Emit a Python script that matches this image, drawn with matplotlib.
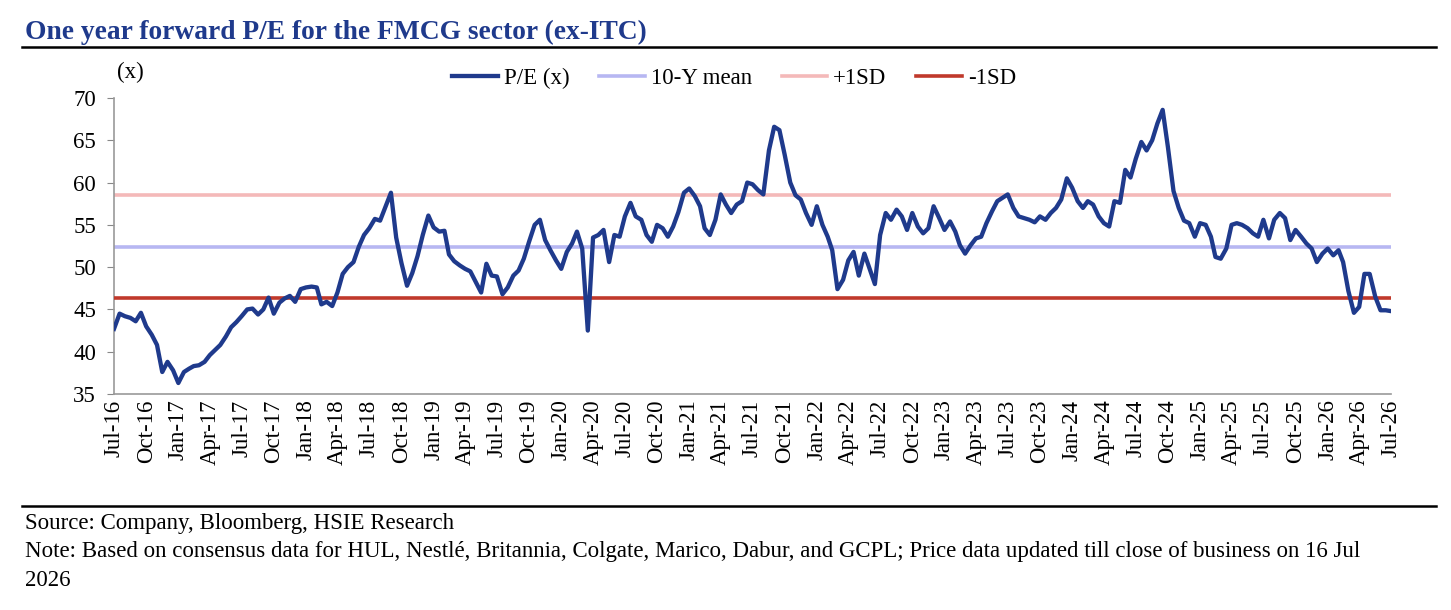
import numpy as np
import pandas as pd
import matplotlib
matplotlib.use("Agg")
import matplotlib.pyplot as plt
import matplotlib.dates as mdates
from matplotlib.lines import Line2D

plt.rcParams["font.family"] = ["Liberation Serif", "DejaVu Serif"]

# one year forward P/E (16 Jul 2016 -> 16 Jul 2026)
pe = [
    # Jul-16 .. Jun-17
    42.7, 44.5, 44.2, 44.0, 43.6, 44.6, 43.0, 42.0, 40.8, 37.6, 38.8, 37.8,
    36.3, 37.6, 38.0, 38.3, 38.4, 38.8, 39.6, 40.2, 40.8, 41.8, 42.9, 43.5,
    # Jul-17 .. Jun-18
    44.2, 45.0, 45.1, 44.4, 45.0, 46.4, 44.5, 45.8, 46.3, 46.6, 45.9, 47.4,
    47.6, 47.7, 47.6, 45.6, 45.9, 45.4, 47.0, 49.2, 50.0, 50.6, 52.4, 53.8,
    # Jul-18 .. Jun-19
    54.6, 55.7, 55.5, 57.2, 58.8, 53.5, 50.5, 47.8, 49.3, 51.3, 53.8, 56.1,
    54.7, 54.2, 54.3, 51.5, 50.7, 50.2, 49.8, 49.5, 48.3, 47.0, 50.4, 49.0,
    # Jul-19 .. Jun-20
    48.9, 46.8, 47.6, 49.0, 49.6, 51.0, 53.0, 55.0, 55.6, 53.2, 52.0, 50.8,
    49.8, 51.8, 52.8, 54.2, 52.2, 42.5, 53.5, 53.8, 54.4, 50.6, 53.8, 53.6,
    # Jul-20 .. Jun-21
    56.0, 57.6, 56.0, 55.6, 53.8, 53.0, 55.0, 54.6, 53.6, 54.8, 56.5, 58.8,
    59.3, 58.4, 57.2, 54.6, 53.8, 55.6, 58.6, 57.4, 56.4, 57.4, 57.8, 60.0,
    # Jul-21 .. Jun-22
    59.8, 59.1, 58.6, 63.8, 66.6, 66.2, 63.3, 60.0, 58.5, 58.0, 56.4, 55.0,
    57.2, 55.0, 53.6, 52.0, 47.4, 48.5, 50.8, 51.8, 49.0, 51.6, 49.8, 48.0,
    # Jul-22 .. Jun-23
    53.8, 56.4, 55.6, 56.8, 56.0, 54.4, 56.4, 54.8, 54.0, 54.6, 57.2, 55.8,
    54.4, 55.4, 54.2, 52.6, 51.6, 52.6, 53.4, 53.6, 55.2, 56.6, 57.8, 58.2,
    # Jul-23 .. Jun-24
    58.6, 57.0, 56.0, 55.8, 55.6, 55.3, 56.0, 55.6, 56.4, 57.0, 58.0, 60.5,
    59.4, 57.8, 57.0, 57.8, 57.4, 56.0, 55.2, 54.8, 57.8, 57.6, 61.5, 60.6,
    # Jul-24 .. Jun-25
    62.8, 64.8, 63.8, 65.0, 67.0, 68.6, 64.2, 59.0, 57.0, 55.5, 55.2, 53.6,
    55.2, 55.0, 53.6, 51.2, 51.0, 52.2, 55.0, 55.2, 55.0, 54.6, 54.0, 53.6,
    # Jul-25 .. Jun-26
    55.6, 53.4, 55.6, 56.4, 55.8, 53.2, 54.4, 53.6, 52.8, 52.2, 50.6, 51.6,
    52.2, 51.4, 52.0, 50.6, 47.2, 44.6, 45.3, 49.2, 49.2, 46.5, 44.9, 44.9,
    # Jul-26
    44.8,
]
mean_10y = 52.4
plus_1sd = 58.5
minus_1sd = 46.3

dates = pd.date_range("2016-07-16", periods=len(pe), freq="SMS-16")

navy = "#1f3a8c"
fs = 16.5

fig = plt.figure(figsize=(14.51, 6.10), dpi=100)
ax = fig.add_axes([114 / 1451, 1 - 394 / 610, (1391 - 114) / 1451, (394 - 98) / 610])

ax.plot(dates, pe, color=navy, lw=3.1, label="P/E (x)", zorder=4)
ax.axhline(mean_10y, color="#b7b7f2", lw=2.6, label="10-Y mean", zorder=2)
ax.axhline(plus_1sd, color="#f4b9b9", lw=2.6, label="+1SD", zorder=2)
ax.axhline(minus_1sd, color="#c0392b", lw=2.6, label="-1SD", zorder=3)

ax.set_ylim(35, 70)
ax.set_yticks(range(35, 71, 5))
ax.set_xlim(dates[0], dates[-1])
ax.set_xticks(dates[::6])
ax.xaxis.set_major_formatter(mdates.DateFormatter("%b-%y"))
ax.tick_params(axis="x", length=0, labelrotation=90, labelsize=fs, pad=4)
ax.tick_params(axis="y", length=5, color="#888888", labelsize=fs, pad=8)
for s in ["top", "right"]:
    ax.spines[s].set_visible(False)
for s in ["left", "bottom"]:
    ax.spines[s].set_color("#999999")
    ax.spines[s].set_linewidth(1.2)

fig.text(130 / 1451, 1 - 72 / 610, "(x)", fontsize=fs, ha="center", va="center")
fig.legend(loc="center", bbox_to_anchor=(734 / 1451, 1 - 78 / 610), ncol=4,
           frameon=False, fontsize=fs, handlelength=2.0, columnspacing=1.3,
           handletextpad=0.25)

fig.text(25 / 1451, 1 - 32 / 610, "One year forward P/E for the FMCG sector (ex-ITC)",
         fontsize=19.8, fontweight="bold", color=navy, va="center")
fig.add_artist(Line2D([22 / 1451, 1436 / 1451], [1 - 47 / 610] * 2, color="black", lw=1.8))
fig.add_artist(Line2D([22 / 1451, 1436 / 1451], [1 - 506 / 610] * 2, color="black", lw=1.8))

fig.text(25 / 1451, 1 - 524 / 610, "Source: Company, Bloomberg, HSIE Research",
         fontsize=fs, va="center")
fig.text(25 / 1451, 1 - 552 / 610,
         "Note: Based on consensus data for HUL, Nestlé, Britannia, Colgate, Marico, Dabur, "
         "and GCPL; Price data updated till close of business on 16 Jul",
         fontsize=fs, va="center")
fig.text(25 / 1451, 1 - 580 / 610, "2026", fontsize=fs, va="center")

fig.savefig("out.png", dpi=100)
